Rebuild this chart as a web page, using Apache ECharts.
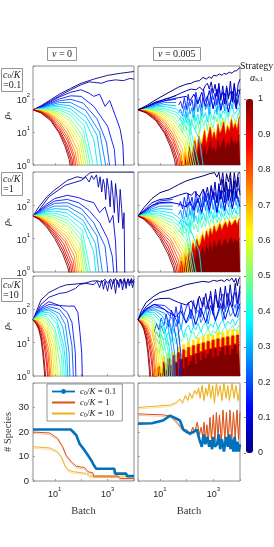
<!DOCTYPE html>
<html><head><meta charset="utf-8">
<script src="https://cdn.jsdelivr.net/npm/echarts@6/dist/echarts.min.js"></script>
<style>html,body{margin:0;padding:0;background:#fff}#c{width:274px;height:547px}</style>
</head><body><div id="c"></div>
<script>
// ---------- data ----------
// smooth trajectories (keypoints [batch, rho]) for strategy alpha = k/20, k = 0..20
const L1 = [ // nu = 0, c0/K = 0.1
 [[1.5,47],[3,62],[7,95],[15,140],[40,210],[100,300],[300,400],[1000,520],[3000,600],[10000,680]],
 [[1.5,47],[3,60],[7,88],[15,125],[40,190],[100,270],[200,330],[300,320],[600,300],[1000,350],[2000,380],[4000,360],[7000,420],[10000,400]],
 [[1.5,47],[3,58],[7,82],[15,115],[40,160],[100,190],[200,150],[300,120],[500,140],[800,60],[1200,90],[2000,30],[3000,12],[3800,4],[4200,0.6]],
 [[1.5,47],[3,56],[7,76],[15,100],[40,125],[100,120],[300,60],[1000,15],[1800,3],[2100,0.6]],
 [[1.5,47],[3,54],[7,71],[15,88],[40,98],[120,75],[400,25],[900,5],[1300,0.6]],
 [[1.5,47],[3,53],[7,66],[15,78],[40,78],[150,45],[500,10],[950,0.6]],
 [[1.5,47],[3,52],[7,61],[15,68],[40,62],[150,30],[400,8],[650,0.6]],
 [[1.5,47],[3,51],[7,57],[15,60],[40,50],[150,20],[300,6],[450,0.6]],
 [[1.5,47],[3,50],[7,53],[15,52],[40,40],[130,16],[330,0.6]],
 [[1.5,47],[3,49],[7,49],[15,46],[40,33],[120,11],[250,0.6]],
 [[1.5,47],[3,48],[7,46],[15,40],[35,27],[110,8],[210,0.6]],
 [[1.5,47],[3,47],[7,43],[15,35],[35,22],[100,6],[170,0.6]],
 [[1.5,47],[3,46],[7,40],[15,31],[30,19],[90,5],[140,0.6]],
 [[1.5,47],[3,45],[7,37],[15,27],[30,15],[80,4],[115,0.6]],
 [[1.5,47],[3,44],[7,35],[15,23],[30,12],[70,3],[95,0.6]],
 [[1.5,47],[3,43],[7,32],[15,20],[30,9],[60,2.5],[80,0.6]],
 [[1.5,47],[3,42],[7,30],[15,17],[30,7],[55,2],[68,0.6]],
 [[1.5,47],[3,41],[7,28],[15,14],[30,5.5],[50,1.8],[58,0.6]],
 [[1.5,47],[3,40],[7,26],[15,12],[30,4],[45,1.5],[52,0.6]],
 [[1.5,47],[3,39],[7,24],[15,10],[25,4.5],[40,1.5],[46,0.6]],
 [[1.5,47],[3,38],[7,22],[15,9],[25,3.5],[35,1.5],[42,0.6]]
];
const L2 = [ // nu = 0, c0/K = 1
 [[1.5,48],[2.5,90],[5,180],[10,290],[30,560],[70,720],[120,650],[220,950],[350,1000],[10000,1000]],
 [[1.5,48],[2.5,70],[6,180],[25,400],[100,560],[150,700],[200,500],[250,780],[300,600],[380,820],[450,350],[520,720],[600,250],[680,600],[760,420],[850,150],[950,650],[1100,300],[1250,90],[1400,550],[1600,200],[1800,60],[2000,450],[2300,150],[2600,30],[3000,300],[3400,80],[3800,20],[4200,60],[4500,0.6]],
 [[1.5,48],[2.5,68],[5,110],[10,160],[30,200],[80,170],[150,140],[300,120],[500,60],[800,90],[1200,30],[1600,50],[2000,8],[2300,0.6]],
 [[1.5,48],[2.5,64],[5,98],[10,135],[30,150],[80,120],[200,70],[500,30],[1000,10],[1500,3],[1800,0.6]],
 [[1.5,48],[2.5,61],[5,88],[10,115],[30,120],[100,80],[300,30],[800,6],[1100,0.6]],
 [[1.5,48],[2.5,58],[5,78],[10,95],[30,95],[120,50],[400,12],[700,0.6]],
 [[1.5,48],[2.5,56],[5,70],[10,80],[30,75],[120,35],[350,7],[500,0.6]],
 [[1.5,48],[2.5,54],[5,64],[10,68],[30,58],[120,25],[300,4],[380,0.6]],
 [[1.5,48],[2.5,52],[5,58],[10,58],[30,45],[110,18],[250,0.6]],
 [[1.5,48],[2.5,50],[5,53],[10,50],[30,36],[100,13],[200,0.6]],
 [[1.5,48],[2.5,48],[5,48],[10,43],[30,29],[100,9],[170,0.6]],
 [[1.5,48],[2.5,47],[5,44],[10,37],[30,23],[90,7],[140,0.6]],
 [[1.5,48],[2.5,46],[5,41],[10,32],[30,18],[85,5],[120,0.6]],
 [[1.5,48],[2.5,45],[5,38],[10,28],[30,14],[75,4],[100,0.6]],
 [[1.5,48],[2.5,44],[5,35],[10,24],[30,11],[65,3.5],[85,0.6]],
 [[1.5,48],[2.5,43],[5,32],[10,21],[25,10],[55,3],[72,0.6]],
 [[1.5,48],[2.5,42],[5,30],[10,18],[25,8],[50,2.2],[62,0.6]],
 [[1.5,48],[2.5,41],[5,28],[10,16],[22,7],[45,1.8],[54,0.6]],
 [[1.5,48],[2.5,40],[5,26],[10,14],[20,6],[40,1.6],[48,0.6]],
 [[1.5,48],[2.5,39],[5,24],[10,12],[20,4.5],[35,1.5],[42,0.6]],
 [[1.5,48],[2.5,38],[5,22],[10,10],[20,3.5],[32,1.3],[38,0.6]]
];
const L3 = [ // nu = 0, c0/K = 10
 [[1.5,48],[3,190],[6,320],[15,460],[27,540],[70,580],[150,620],[250,700],[400,720],[600,650],[800,800],[1000,600],[1300,820],[1600,580],[2000,850],[2500,560],[3000,820],[3600,600],[4300,850],[5000,550],[6000,830],[7000,600],[8000,850],[9000,620],[10000,800]],
 [[1.5,48],[3,140],[6,230],[15,300],[27,320],[60,420],[90,560],[150,600],[300,550],[400,700],[500,450],[600,750],[700,400],[800,700],[1000,350],[1200,750],[1400,400],[1700,800],[2000,300],[2300,750],[2700,450],[3200,800],[3700,380],[4300,760],[5000,420],[5800,800],[6700,500],[7700,780],[8800,450],[10000,700]],
 [[1.5,48],[2,75],[3,115],[6,170],[15,130],[30,125],[55,125],[75,80],[90,20],[105,5],[112,0.6]],
 [[1.5,48],[2,71],[3,105],[6,140],[15,130],[30,80],[45,40],[60,5],[64,0.6]],
 [[1.5,48],[2,68],[3,97],[6,120],[15,100],[30,50],[45,8],[52,0.6]],
 [[1.5,48],[2,65],[3,90],[6,105],[15,75],[25,35],[35,5],[38,0.6]],
 [[1.5,48],[2,63],[3,84],[6,95],[12,65],[20,30],[28,6],[32,0.6]],
 [[1.5,48],[2,61],[3,78],[6,82],[12,48],[22,8],[26,2],[28,0.6]],
 [[1.5,48],[2,59],[3,72],[6,70],[12,35],[20,6],[24,0.6]],
 [[1.5,48],[2,57],[3,66],[5,60],[10,28],[18,4],[20,0.6]],
 [[1.5,48],[2,55],[3,60],[5,50],[10,20],[16,2],[17,0.6]],
 [[1.5,48],[2,53],[3,54],[5,40],[10,13],[14,0.6]],
 [[1.5,48],[2,51],[3,49],[5,33],[9,9],[12,0.6]],
 [[1.5,48],[2,49],[3,43],[5,26],[8,7],[10,0.6]],
 [[1.5,48],[2,47],[3,38],[5,20],[7,6],[8.5,0.6]],
 [[1.5,48],[2,45],[3,33],[4,21],[6,6],[7.5,0.6]],
 [[1.5,48],[2,43],[3,29],[4,16],[5.5,5],[6.8,0.6]],
 [[1.5,48],[2,42],[3,25],[4,12],[5,4],[6,0.6]],
 [[1.5,48],[2,40],[2.5,30],[3,20],[4,8],[5,2],[5.5,0.6]],
 [[1.5,48],[2,38],[2.5,27],[3,16],[3.5,8],[4.2,2],[4.7,0.6]],
 [[1.5,48],[2,36],[2.5,24],[3,13],[3.5,5],[4,1.5],[4.3,0.6]]
];
// nu = 0.005: dominant (low-alpha) trajectories
const R1_k0 = [[1.5,47],[3,62],[7,95],[22,160],[50,230],[96,280],[150,300],[200,340],[300,360],[410,450],[550,400],[700,470],[850,420],[1000,520],[1300,500],[1700,575],[2100,520],[2500,600],[3000,560],[4000,650],[5000,600],[6000,700],[7400,720],[8500,650],[10000,900]];
const R1_k1 = [[1.5,47],[3,58],[7,82],[22,105],[60,150],[100,180],[150,200],[222,190],[309,230],[410,180],[508,260],[600,300],[708,200],[835,330],[986,150],[1160,280],[1370,120],[1620,300],[1910,90],[2260,250],[2660,70],[3140,220],[3710,100],[4380,350],[5170,80],[6100,300],[7200,60],[8490,280],[10000,400]];
const R1_k2 = [[1.5,47],[3,56],[7,76],[22,95],[50,110],[97,120],[135,90],[188,140],[262,70],[365,160],[508,60],[708,180],[986,50],[1370,200],[1910,45],[2660,150],[3710,40],[5170,170],[7200,50],[10000,200]];
const R2_k0 = [[1.5,48],[2.5,85],[5,160],[10,240],[22,295],[50,420],[96,540],[200,650],[410,760],[700,880],[1100,960],[1370,700],[1620,980],[1910,400],[2260,950],[2660,250],[3140,900],[3710,500],[4380,980],[5170,200],[6100,950],[7200,350],[8490,900],[10000,980]];
const R2_k1 = [[1.5,48],[2.5,70],[5,120],[10,150],[22,160],[50,200],[96,235],[150,200],[200,260],[300,180],[410,300],[508,200],[600,350],[708,150],[835,400],[986,180],[1160,500],[1370,120],[1620,450],[1910,150],[2260,600],[2660,120],[3140,500],[3710,140],[4380,650],[5170,130],[6100,550],[7200,160],[8490,700],[10000,200]];
const R2_k2 = [[1.5,48],[2.5,66],[5,100],[10,120],[22,125],[50,110],[97,90],[135,130],[188,70],[262,160],[365,60],[508,200],[708,70],[986,250],[1370,60],[1910,280],[2660,70],[3710,300],[5170,80],[7200,260],[10000,90]];
const R3_k0 = [[1.5,48],[2,90],[3,160],[6,250],[10,320],[22,380],[50,460],[96,550],[200,620],[400,690],[700,650],[1000,740],[1400,700],[2000,760],[2600,680],[3200,800],[4000,720],[5000,860],[6000,650],[7000,850],[8000,500],[9000,820],[10000,880]];
const R3_k1 = [[1.5,48],[2,75],[3,120],[6,190],[10,210],[22,215],[50,160],[96,135],[150,180],[220,100],[300,250],[400,120],[520,300],[640,100],[790,350],[980,90],[1200,400],[1500,110],[1850,450],[2300,100],[2800,500],[3500,130],[4300,550],[5300,120],[6600,600],[8100,150],[10000,500]];
const R3_k2 = [[1.5,48],[2,68],[3,100],[6,140],[10,120],[22,80],[40,60],[60,90],[95,40],[145,100],[220,35],[340,110],[520,40],[790,130],[1200,45],[1850,150],[2800,50],[4300,160],[6600,60],[10000,150]];
// nu = 0.005: fluctuating populations on batch grids
const XN = [50,59,70,82,97,114,135,159,188,222,262,309,365,430,508,600,708,835,986,1160,1370,1620,1910,2260,2660,3140,3710,4380,5170,6100,7200,8490,10000];
const XN3 = [6,7.4,9.2,11,14,17,21,27,33,40,50,62,77,95,117,145,180,220,270,340,420,520,640,790,980,1200,1500,1850,2300,2800,3500,4300,5300,6600,8100,10000];
const n1_a100 = [0.5,0.5,0.5,0.6,1.4,0.5,1.9,0.8,1.3,2.6,1.1,3.4,1.6,2.2,4.1,1.8,3.0,5.2,2.4,3.6,2.1,5.8,3.1,4.4,6.6,2.7,5.0,3.5,7.2,4.2,5.6,3.8,7.8];
const n1_a90 = [0.5,0.6,1.3,0.5,2.4,1.0,3.6,1.7,2.5,5.5,2.2,7.5,3.8,5.0,11,4.2,8.0,14,6.0,10,5.5,17,8.5,12,20,7.5,15,10,24,12,18,11,28];
const n1_a65 = [0.6,1.1,2.2,1.0,3.4,1.6,5.0,2.4,3.8,7.5,3.2,10,5.0,7.0,14,5.8,11,18,8.0,13,7.0,22,10,16,26,9.5,19,12,29,14,23,13,33];
const n1_a45 = [14,17,9,21,11,26,8,19,28,12,22,9,31,15,24,11,35,18,13,30,20,38,14,27,17,41,22,16,34,25,19,39,26];
const n1_a35 = [22,28,16,34,19,40,15,26,46,21,35,17,52,27,39,20,58,30,24,47,33,62,26,44,36,57,29,49,65,34,41,55,38];
const n1_a25 = [38,50,30,62,27,78,35,55,24,92,40,68,30,105,48,72,33,118,52,85,38,126,58,90,44,138,62,80,50,145,70,96,60];
const n1_a15 = [65,85,52,110,48,140,62,95,42,160,75,115,55,190,85,125,58,210,95,150,65,230,105,160,72,250,115,170,85,270,125,190,150];
const n2_a100 = [0.5,0.5,1.1,0.6,1.9,0.9,2.6,1.6,3.4,2.1,4.8,2.4,3.6,5.7,3.1,6.9,4.0,8.2,3.8,9.0,5.2,7.4,9.6,5.0,8.6,10,6.2,9.2,11,6.6,10,7.4,10];
const n2_a90 = [0.5,1.0,2.1,1.2,3.6,2.2,5.2,2.8,7.4,4.2,9.5,5.6,7.0,13,8.0,17,10,20,12,24,15,19,28,17,25,31,20,34,24,29,36,25,38];
const n2_a65 = [0.8,1.6,3.2,2.1,5.3,3.2,7.4,4.6,9.5,6.2,13,8.0,11,17,10,21,14,25,16,29,20,26,34,22,31,37,26,40,28,35,43,31,45];
const n2_a45 = [16,21,12,26,15,31,14,36,19,27,16,41,21,34,23,46,25,39,29,52,30,44,33,57,36,47,37,60,39,49,41,62,46];
const n2_a35 = [26,36,20,46,24,57,22,66,31,49,28,77,35,59,33,87,41,69,38,92,43,74,46,97,49,79,51,102,53,84,56,112,61];
const n2_a25 = [52,72,40,92,44,125,50,98,38,155,60,128,54,185,70,138,58,205,74,148,64,225,80,158,69,245,88,168,79,265,99,178,121];
const n2_a15 = [92,132,78,175,88,225,98,178,78,265,118,198,88,305,128,228,98,355,148,248,118,385,158,278,128,405,178,298,148,425,198,318,255];
const n3_a100 = [0.5,0.5,1.2,0.7,1.7,0.9,2.1,1.3,1.0,2.6,1.6,3.1,1.7,3.6,2.1,2.8,4.1,2.3,4.7,2.9,5.2,3.4,4.4,6.1,3.5,6.6,3.9,5.5,7.2,4.1,7.7,4.3,6.4,8.2,4.7,8.6];
const n3_a90 = [0.5,1.0,1.9,1.2,2.6,1.5,3.3,2.1,4.1,2.4,5.1,3.1,6.1,3.4,7.2,4.1,8.2,4.7,9.1,5.4,10,6.1,11,6.6,12,7.1,13,7.4,14,8.1,15,8.4,16,9.2,17,10];
const n3_a65 = [0.8,1.7,2.4,1.9,3.8,2.3,4.9,3.1,5.2,4.4,7.4,4.6,9.0,5.8,10.5,7.4,12,7.9,14,9.5,15,9.8,18,10.6,17,12.5,21,12.8,20,14.6,23,14.2,25,16.5,24,19];
const n3_a45 = [4,7,5,9,6,12,8,10,14,9,16,11,13,19,10,17,21,13,18,24,15,20,27,16,23,19,29,17,25,31,20,26,33,22,28,35];
const n3_a35 = [8,13,9,17,12,15,21,11,26,16,20,30,15,27,34,19,31,24,38,21,33,42,26,36,29,46,25,39,48,30,44,36,52,33,47,55];
const n3_a25 = [12,22,14,33,19,26,44,18,52,30,61,24,70,38,47,82,29,75,95,40,58,105,36,88,115,50,70,125,45,98,130,62,80,140,55,120];
const n3_a15 = [20,38,24,55,33,72,30,95,45,120,38,140,60,110,160,52,185,75,210,58,230,95,175,250,70,270,120,200,290,85,310,140,240,330,100,350];
// number of species
const SL_01 = [[1.5,21],[40,21],[50,20],[66,18.6],[87,15.2],[135,12.5],[180,10.5],[240,8.5],[300,6.5],[370,5],[1800,5],[1900,3],[5000,3],[5500,2],[10000,2]];
const SL_1 = [[1.5,20],[6.5,19.6],[13,17.3],[20,14],[27,10.5],[43,7.8],[66,6],[135,5.5],[180,3.8],[280,3.3],[300,2],[2500,2],[3000,1],[10000,1]];
const SL_10 = [[1.5,14],[6.5,13.5],[13,11.9],[18,9.8],[24,6.5],[32,4.5],[49,3.8],[155,3.1],[210,2],[10000,2]];
const SR_01 = [[1.5,23.4],[5,23.6],[13,24.7],[24,26.7],[40,25.5],[56,24.7],[75,21],[100,20],[135,19.4],[180,20],[240,21],[300,17],[370,13.9],[430,19],[500,15],[600,18],[700,14],[780,16.6],[900,13],[1000,18],[1150,14],[1380,15],[1600,19],[1800,13],[2100,17],[2500,12],[3000,18],[3500,14],[4000,19],[4400,13],[5000,17],[5600,12],[6300,18],[7100,12],[8000,16],[9000,12],[10000,15]];
const SR_1 = [[1.5,27.4],[13,27],[25,26.5],[43,24],[60,22],[76,20.6],[100,21],[135,19],[170,22],[200,20],[250,24],[300,19],[350,22],[400,18],[450,24],[500,17],[575,23],[650,16],[750,26],[850,17],[1000,27],[1150,16],[1300,28],[1500,18],[1700,27],[2000,16],[2300,29],[2700,17],[3100,28],[3600,16],[4200,29],[4900,17],[5700,28],[6600,18],[7700,29],[8800,17],[10000,28]];
const SR_10 = [[1.5,30],[13,30.8],[25,31],[40,32],[56,33.5],[70,32],[90,35],[110,33],[130,36],[160,34],[200,37],[240,35.5],[280,38],[320,34],[380,39],[450,33],[520,38],[600,35],[700,40],[800,34],[950,39],[1100,32],[1300,40],[1500,35],[1800,39],[2100,33],[2500,40],[3000,34],[3500,39],[4000,33],[5000,40],[6000,34],[7000,39],[8500,33],[10000,38]];
const legendNames = ['c0/K = 0.1','c0/K = 1','c0/K = 10'];
const cbTicks = [0,0.1,0.2,0.3,0.4,0.5,0.6,0.7,0.8,0.9,1];

// ---------- styles ----------
const serif = "'Liberation Serif','DejaVu Serif',serif";
const sans = "'Liberation Sans',Arial,sans-serif";
const AX = '#8c8c8c';
function jet(a){const c=v=>Math.round(255*Math.max(0,Math.min(1,v)));return 'rgb('+c(1.5-Math.abs(4*a-3))+','+c(1.5-Math.abs(4*a-2))+','+c(1.5-Math.abs(4*a-1))+')';}
const jetStops=['#000080','#0000ff','#0080ff','#00ffff','#80ff80','#ffff00','#ff8000','#ff0000','#800000'];
const supRich={b:{fontSize:9,fontFamily:sans,color:'#262626',lineHeight:13,verticalAlign:'bottom'},s:{fontSize:6,fontFamily:sans,color:'#262626',lineHeight:7,verticalAlign:'top'}};
function supFmt(show){return v=>{const e=Math.log10(v),r=Math.round(e);if(Math.abs(e-r)>1e-6||show.indexOf(r)<0)return '';return '{b|10}{s|'+r+'}';};}
const mathRich={i:{fontStyle:'italic',fontWeight:'normal',fontFamily:serif,fontSize:10,color:'#222'},t:{fontWeight:'normal',fontFamily:serif,fontSize:10,color:'#222'},sub:{fontWeight:'normal',fontFamily:serif,fontSize:7,color:'#222',verticalAlign:'bottom',lineHeight:8}};

const grids=[
 {left:33,top:66,width:101,height:99},{left:33,top:172,width:101,height:100},{left:33,top:276,width:101,height:100},
 {left:138,top:66,width:102,height:99},{left:138,top:172,width:102,height:100},{left:138,top:276,width:102,height:100},
 {left:33,top:383,width:101,height:98},{left:138,top:383,width:102,height:98},
 {left:246,top:99,width:7,height:354}
].map((g,i)=>Object.assign(g,{show:i<8,borderColor:AX,borderWidth:1,outerBoundsMode:'none'}));

const tick={show:true,inside:true,length:2,lineStyle:{color:AX,width:0.8}};
const xAxes=[],yAxes=[];
for(let i=0;i<8;i++){
 const bottom=i>=6;
 xAxes.push({type:'log',logBase:10,gridIndex:i,min:1.5,max:10000,axisLine:{show:false},axisTick:tick,splitLine:{show:false},
  axisLabel:{show:bottom,formatter:supFmt([1,3]),margin:5,rich:supRich},
  name:bottom?'Batch':'',nameLocation:'middle',nameGap:25,nameTextStyle:{fontFamily:serif,fontSize:10.5,color:'#333'}});
 if(i<6){
  yAxes.push({type:'log',logBase:10,gridIndex:i,min:1,max:1000,axisLine:{show:false},axisTick:tick,splitLine:{show:false},
   axisLabel:{show:i<3,formatter:supFmt([0,1,2]),margin:3,rich:supRich},
   name:i<3?'{i|ρ}{sub|s}':'',nameLocation:'middle',nameGap:21,nameRotate:90,nameTextStyle:{rich:mathRich}});
 } else {
  yAxes.push({type:'value',gridIndex:i,min:0,max:40,interval:10,axisLine:{show:false},axisTick:tick,splitLine:{show:false},
   axisLabel:{show:i===6,formatter:v=>v===40?'':String(v),fontSize:9.5,fontFamily:sans,color:'#262626',margin:4},
   name:i===6?'# Species':'',nameLocation:'middle',nameGap:19,nameRotate:90,nameTextStyle:{fontFamily:serif,fontSize:10.5,color:'#333'}});
 }
}
xAxes.push({type:'value',gridIndex:8,show:false,min:0,max:1});
yAxes.push({type:'value',gridIndex:8,min:0,max:1,interval:0.1,position:'right',axisLine:{show:false},
 axisTick:{show:true,inside:true,length:2,lineStyle:{color:'#333',width:0.6}},splitLine:{show:false},
 axisLabel:{fontSize:9,fontFamily:sans,color:'#262626',margin:5,formatter:v=>{const r=Math.round(v*10)/10;return cbTicks.indexOf(r)>=0?String(r):'';}}});

const series=[{type:'scatter',xAxisIndex:8,yAxisIndex:8,data:[],silent:true}];
function addLine(gi,data,color,w,z){series.push({type:'line',xAxisIndex:gi,yAxisIndex:gi,data:data,symbol:'none',silent:true,animation:false,z:z||2,
 lineStyle:{color:color,width:w},itemStyle:{color:color}});}
function addArea(gi,xs,ys,color,z){series.push({type:'line',step:'middle',xAxisIndex:gi,yAxisIndex:gi,data:xs.map((x,j)=>[x,ys[j]]),symbol:'none',silent:true,animation:false,z:z||2,
 lineStyle:{color:color,width:0.6},itemStyle:{color:color},areaStyle:{color:color,opacity:1,origin:'start'}});}

// nu = 0 panels
[L1,L2,L3].forEach((L,p)=>{L.forEach((d,k)=>addLine(p,d,jet(k/20),0.9));});
// nu = 0.005 panels
const noisy=[
 {g:3,xs:XN,lines:[[0.15,n1_a15],[0.25,n1_a25],[0.35,n1_a35],[0.45,n1_a45]],areas:[[0.65,n1_a65],[0.9,n1_a90],[1.0,n1_a100]],L:L1,cut:50,top:[R1_k2,R1_k1,R1_k0]},
 {g:4,xs:XN,lines:[[0.15,n2_a15],[0.25,n2_a25],[0.35,n2_a35],[0.45,n2_a45]],areas:[[0.65,n2_a65],[0.9,n2_a90],[1.0,n2_a100]],L:L2,cut:50,top:[R2_k2,R2_k1,R2_k0]},
 {g:5,xs:XN3,lines:[[0.15,n3_a15],[0.25,n3_a25],[0.35,n3_a35],[0.45,n3_a45]],areas:[[0.65,n3_a65],[0.9,n3_a90],[1.0,n3_a100]],L:L3,cut:1e9,top:[R3_k2,R3_k1,R3_k0]}
];
noisy.forEach(P=>{
 P.lines.forEach(([a,ys])=>addLine(P.g,P.xs.map((x,j)=>[x,ys[j]]),jet(a),0.9,2));
 P.areas.forEach(([a,ys])=>addArea(P.g,P.xs,ys,jet(a),3));
 P.L.forEach((d,k)=>{if(k<3)return;const dd=k>=7?d:d.filter(q=>q[0]<=P.cut);addLine(P.g,dd,jet(k/20),0.9,4);});
 P.top.forEach((d,j)=>addLine(P.g,d,jet((2-j)/20),1,5));
});
// species panels
const spC=['#0072BD','#D95319','#EDB120'];
function addSp(gi,d,idx){series.push({type:'line',name:legendNames[idx],xAxisIndex:gi,yAxisIndex:gi,data:d,symbol:idx===0?'circle':'none',symbolSize:3,showSymbol:false,silent:true,animation:false,
 lineStyle:{color:spC[idx],width:idx===0?2.6:1,shadowColor:idx===0?'transparent':(idx===1?'rgba(217,83,25,0.35)':'rgba(237,177,32,0.4)'),shadowOffsetY:idx===0?0:1.5},itemStyle:{color:spC[idx]}});}
addSp(6,SL_10,2);addSp(6,SL_1,1);addSp(6,SL_01,0);
addSp(7,SR_10,2);addSp(7,SR_1,1);addSp(7,SR_01,0);

const boxT={borderColor:'#7a7a7a',borderWidth:0.8,backgroundColor:'#fff'};
const tStyle={fontWeight:'normal',rich:mathRich};
const option={
 animation:false,
 grid:grids,xAxis:xAxes,yAxis:yAxes,series:series,
 visualMap:{type:'continuous',seriesIndex:0,min:0,max:1,left:246,top:99,itemWidth:7,itemHeight:354,padding:0,calculable:false,hoverLink:false,text:[],showLabel:false,inRange:{color:jetStops}},
 legend:{data:[{name:legendNames[0],lineStyle:{width:1.8}},{name:legendNames[1],itemStyle:{opacity:0}},{name:legendNames[2],itemStyle:{opacity:0}}],left:47,top:384,orient:'vertical',itemGap:2,itemWidth:23,itemHeight:6,padding:[3,6,3,4],borderColor:'#7a7a7a',borderWidth:0.8,backgroundColor:'#fff',selectedMode:false,
  formatter:n=>'{i|c}{sub|0}{t|/}{i|K}{t| = '+n.split('= ')[1]+'}',textStyle:{fontFamily:serif,fontSize:9,rich:{i:{fontStyle:'italic',fontFamily:serif,fontSize:9,color:'#222'},t:{fontFamily:serif,fontSize:9,color:'#222'},sub:{fontFamily:serif,fontSize:6,color:'#222',verticalAlign:'bottom',lineHeight:7}}}},
 title:[
  Object.assign({text:'{i|ν}{t| = 0}',left:47,top:47,padding:[2,5,2,5],textStyle:tStyle},boxT),
  Object.assign({text:'{i|ν}{t| = 0.005}',left:153,top:47,padding:[2,5,2,5],textStyle:tStyle},boxT),
  Object.assign({text:'{i|c}{sub|0}{t|/}{i|K}\n{t|=0.1}',left:1,top:68,padding:[2,2,2,2],textStyle:tStyle},boxT),
  Object.assign({text:'{i|c}{sub|0}{t|/}{i|K}\n{t|=1}',left:1,top:172,padding:[2,2,2,2],textStyle:tStyle},boxT),
  Object.assign({text:'{i|c}{sub|0}{t|/}{i|K}\n{t|=10}',left:1,top:278,padding:[2,2,2,2],textStyle:tStyle},boxT),
  {text:'Strategy',left:240,top:61,padding:0,textStyle:{fontFamily:serif,fontSize:10,fontWeight:'normal',color:'#222'}},
  {text:'{i|α}{sub|s,1}',left:250,top:73,padding:0,textStyle:tStyle}
 ]
};
const chart=echarts.init(document.getElementById('c'),null,{renderer:'canvas'});
chart.setOption(option);
</script></body></html>
